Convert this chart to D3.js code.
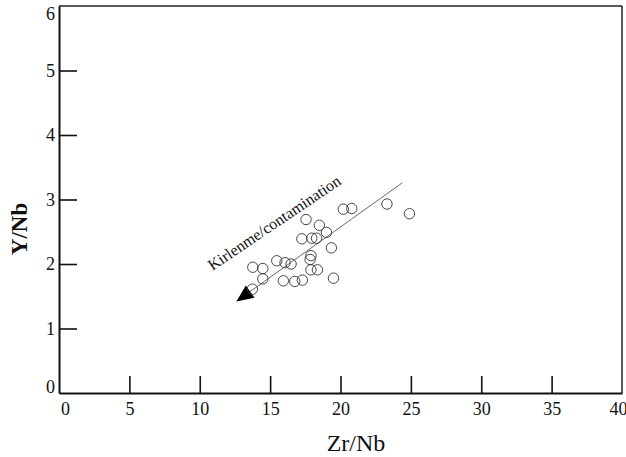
<!DOCTYPE html>
<html>
<head>
<meta charset="utf-8">
<script src="https://cdn.jsdelivr.net/npm/d3@7"></script>
<style>
  body { margin: 0; background: #fff; }
</style>
</head>
<body>
<script>
// Zr/Nb vs Y/Nb samples
let zrNb = [20.2, 20.8, 23.3, 24.9, 17.55, 18.5, 19.0, 17.25, 17.96, 18.3, 19.35,
            15.47, 16.06, 16.49, 17.9, 17.84, 13.77, 14.48, 17.9, 18.36,
            14.48, 15.94, 16.75, 17.29, 19.5, 13.74];
let yNb = [2.85, 2.86, 2.93, 2.78, 2.69, 2.60, 2.49, 2.39, 2.40, 2.40, 2.25,
           2.05, 2.02, 2.00, 2.13, 2.07, 1.95, 1.93, 1.91, 1.91,
           1.77, 1.74, 1.73, 1.75, 1.78, 1.61];

// contamination trend: arrow tip then upper end
let trendX = [12.6, 24.4];
let trendY = [1.42, 3.26];

let xTicks = [0, 5, 10, 15, 20, 25, 30, 35, 40];
let yTicks = [0, 1, 2, 3, 4, 5, 6];

let serif = "Liberation Serif";

let margin = {top: 6, right: 4, bottom: 64, left: 59},
    width = 626 - margin.left - margin.right,
    height = 457 - margin.top - margin.bottom;

let x = d3.scaleLinear().domain([0, 40]).range([0, width]);
let y = d3.scaleLinear().domain([0, 6]).range([height, 0]);

let svg = d3.select("body").append("svg")
    .attr("width", 626)
    .attr("height", 457);

let g = svg.append("g")
    .attr("transform", "translate(" + margin.left + "," + margin.top + ")");

// frame
g.append("line").attr("x1", 0).attr("x2", width).attr("y1", 0).attr("y2", 0)
    .attr("stroke", "#222").attr("stroke-width", 1.5);
g.append("line").attr("x1", width).attr("x2", width).attr("y1", 0).attr("y2", height)
    .attr("stroke", "#222").attr("stroke-width", 1.5);

// bottom axis, ticks pointing inward
let xAxis = g.append("g")
    .attr("transform", "translate(0," + height + ")")
    .call(d3.axisBottom(x).tickValues(xTicks).tickFormat(d3.format("d")).tickSize(-17).tickSizeOuter(0));
xAxis.attr("font-family", serif).attr("font-size", 18);
xAxis.select(".domain").attr("stroke", "#111").attr("stroke-width", 2);
xAxis.selectAll(".tick line").attr("stroke", "#111").attr("stroke-width", 1.6)
    .style("display", d => (d === 0 || d === 40) ? "none" : null);
xAxis.selectAll(".tick text")
    .style("font-family", serif)
    .style("font-size", "18px")
    .attr("fill", "#111")
    .attr("y", 9)
    .attr("dx", d => d === 0 ? 6 : d === 40 ? -4 : 0);

// left axis, ticks pointing inward
let yAxis = g.append("g")
    .call(d3.axisLeft(y).tickValues(yTicks).tickFormat(d3.format("d")).tickSize(-18).tickSizeOuter(0));
yAxis.attr("font-family", serif).attr("font-size", 18);
yAxis.select(".domain").attr("stroke", "#111").attr("stroke-width", 2);
yAxis.selectAll(".tick line").attr("stroke", "#111").attr("stroke-width", 1.6)
    .style("display", d => (d === 0 || d === 6) ? "none" : null);
yAxis.selectAll(".tick text")
    .style("font-family", serif)
    .style("font-size", "18px")
    .attr("fill", "#111")
    .attr("x", -4)
    .attr("dy", d => d === 0 ? "-0.02em" : d === 6 ? "0.75em" : "0.32em");

// trend line with arrow head at low end
let x0 = x(trendX[0]), y0 = y(trendY[0]), x1 = x(trendX[1]), y1 = y(trendY[1]);
let ang = Math.atan2(y1 - y0, x1 - x0);
g.append("line")
    .attr("x1", x0 + 10 * Math.cos(ang)).attr("y1", y0 + 10 * Math.sin(ang))
    .attr("x2", x1).attr("y2", y1)
    .attr("stroke", "#444").attr("stroke-width", 0.8);
let aLen = 17, aHalf = 7.5;
let bx = x0 + aLen * Math.cos(ang), by = y0 + aLen * Math.sin(ang);
g.append("path")
    .attr("d", "M" + x0 + "," + y0 +
        "L" + (bx - aHalf * Math.sin(ang)) + "," + (by + aHalf * Math.cos(ang)) +
        "L" + (bx + aHalf * Math.sin(ang)) + "," + (by - aHalf * Math.cos(ang)) + "Z")
    .attr("fill", "#000");

g.append("text")
    .attr("transform", "translate(" + (x(10.9)) + "," + (y(1.89)) + ") rotate(-34)")
    .style("font-family", serif)
    .style("font-size", "16px")
    .attr("fill", "#111")
    .text("Kirlenme/contamination");

// data points
g.selectAll("circle")
    .data(zrNb)
    .enter().append("circle")
    .attr("cx", (d, i) => x(d))
    .attr("cy", (d, i) => y(yNb[i]))
    .attr("r", 5.2)
    .attr("fill", "none")
    .attr("stroke", "#333")
    .attr("stroke-width", 0.9);

// axis titles
svg.append("text")
    .attr("x", 356)
    .attr("y", 451)
    .attr("text-anchor", "middle")
    .attr("fill", "#111")
    .style("font-family", serif)
    .style("font-size", "24px")
    .text("Zr/Nb");

svg.append("text")
    .attr("transform", "translate(27,229) rotate(-90)")
    .attr("text-anchor", "middle")
    .attr("fill", "#111")
    .style("font-family", serif)
    .style("font-size", "23px")
    .style("font-weight", "bold")
    .text("Y/Nb");
</script>
</body>
</html>
